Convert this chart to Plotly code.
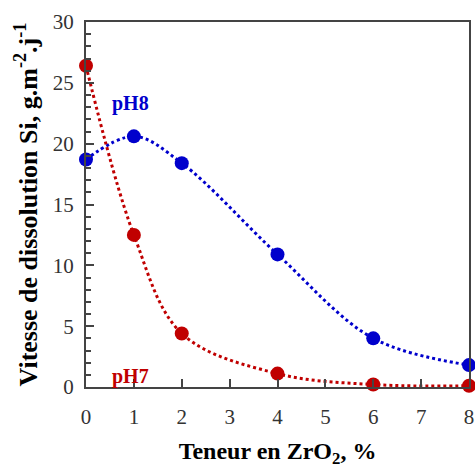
import plotly.graph_objects as go

zro2 = [0, 1, 2, 4, 6, 8]
ph8 = [18.7, 20.6, 18.4, 10.9, 4.0, 1.8]
ph7 = [26.4, 12.5, 4.4, 1.1, 0.2, 0.1]

blue = "#0000cc"
red = "#c00000"
font = "Liberation Serif"

fig = go.Figure()
fig.add_trace(go.Scatter(x=zro2, y=ph8, mode="lines+markers", name="pH8",
                         line=dict(color=blue, width=3, dash="dot", shape="spline", smoothing=1.0),
                         marker=dict(color=blue, size=14), cliponaxis=False))
fig.add_trace(go.Scatter(x=zro2, y=ph7, mode="lines+markers", name="pH7",
                         line=dict(color=red, width=3, dash="dot", shape="spline", smoothing=1.0),
                         marker=dict(color=red, size=14), cliponaxis=False))

fig.add_annotation(x=0.5, y=23.3, text="<b>pH8</b>", showarrow=False, xanchor="left",
                   font=dict(family=font, size=20, color=blue))
fig.add_annotation(x=0.5, y=0.9, text="<b>pH7</b>", showarrow=False, xanchor="left",
                   font=dict(family=font, size=20, color=red))

axis_common = dict(showgrid=False, zeroline=False, showline=True, linecolor="#444",
                   linewidth=2, mirror=True, ticks="inside", tickcolor="#444",
                   tickwidth=1.5, ticklen=8, automargin=False,
                   tickfont=dict(family=font, size=21, color="#333"))

fig.update_xaxes(range=[0, 8], dtick=1, ticklabelstandoff=10, **axis_common,
                 title=dict(text="<b>Teneur en ZrO<sub>2</sub>, %</b>",
                            font=dict(family=font, size=24, color="black"), standoff=14))
fig.update_yaxes(range=[0, 30], dtick=5, ticklabelstandoff=6, **axis_common,
                 minor=dict(ticks="inside", dtick=1, ticklen=5, tickcolor="#444", tickwidth=1.5),
                 title=dict(text="<b>Vitesse de dissolution Si, g.m<sup>-2</sup>.j<sup>-1</sup></b>",
                            font=dict(family=font, size=26, color="black"), standoff=8))

fig.update_layout(width=475, height=472, showlegend=False,
                  plot_bgcolor="white", paper_bgcolor="white",
                  margin=dict(l=86, r=6, t=22, b=85))

fig.write_html("out.html", config={"displayModeBar": False},
               post_script="document.body.style.margin='0';document.body.style.overflow='hidden';")
